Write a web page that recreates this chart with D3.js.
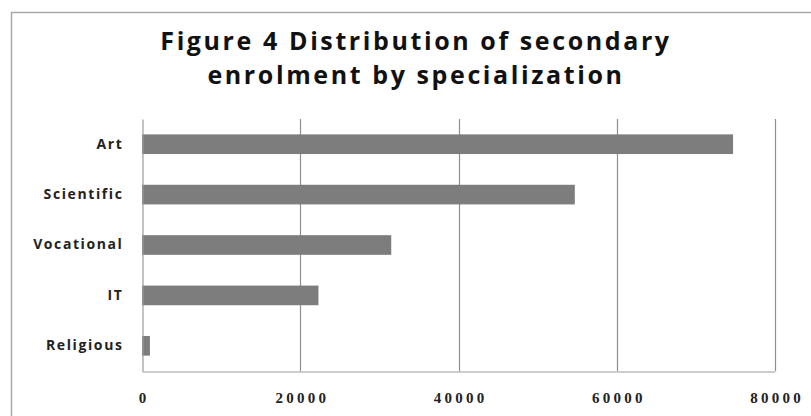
<!DOCTYPE html>
<html>
<head>
<meta charset="utf-8">
<script src="https://cdn.jsdelivr.net/npm/d3@7"></script>
<style>
  body { margin: 0; background: #fff; }
  #vis { width: 811px; height: 416px; }
</style>
</head>
<body>
<div id="vis"></div>
<script>
// data
var categories = ['Art', 'Scientific', 'Vocational', 'IT', 'Religious'];
var enrolment = [74700, 54700, 31500, 22300, 1000];
var xTicks = [0, 20000, 40000, 60000, 80000];
var titleLines = ['Figure 4 Distribution of secondary', 'enrolment by specialization'];

var width = 811, height = 416;
var margin = { top: 119, bottom: 45, left: 142, right: 36 };

var svg = d3.select('#vis')
    .append('svg')
    .attr('width', width)
    .attr('height', height);

svg.append('rect')
    .attr('width', width)
    .attr('height', height)
    .attr('fill', '#fff');

// chart frame (only top and left edges visible)
svg.append('rect')
    .attr('x', 11.5)
    .attr('y', 12.5)
    .attr('width', width + 20)
    .attr('height', height + 20)
    .attr('fill', 'none')
    .attr('stroke', '#a8a8a8')
    .attr('stroke-width', 1.5);

// title
svg.append('g')
    .selectAll('text')
    .data(titleLines)
    .enter()
    .append('text')
    .attr('x', 416)
    .attr('y', function(d, i) { return 50 + i * 34; })
    .attr('text-anchor', 'middle')
    .style('font-family', '"Open Sans", sans-serif')
    .style('font-weight', 700)
    .style('font-size', '25px')
    .style('letter-spacing', '2.6px')
    .style('fill', '#111')
    .text(function(d) { return d; });

var data = categories.map(function(c, i) {
    return { name: c, value: enrolment[i] };
});

var x_scale = d3.scaleLinear()
    .domain([0, 80000])
    .range([margin.left, width - margin.right]);

var y_scale = d3.scaleBand()
    .domain(categories)
    .range([margin.top, height - margin.bottom])
    .paddingInner(0.61)
    .paddingOuter(0.305);

var plotTop = margin.top, plotBottom = height - margin.bottom;

// vertical gridlines
svg.append('g')
    .selectAll('line')
    .data(xTicks.slice(1))
    .enter()
    .append('line')
    .attr('x1', function(d) { return Math.round(x_scale(d)) + 0.5; })
    .attr('x2', function(d) { return Math.round(x_scale(d)) + 0.5; })
    .attr('y1', plotTop)
    .attr('y2', plotBottom)
    .attr('stroke', '#8f8f8f')
    .attr('stroke-width', 1.2);

// bars
svg.append('g')
    .selectAll('.bar')
    .data(data)
    .enter()
    .append('rect')
    .attr('class', 'bar')
    .attr('x', x_scale(0))
    .attr('y', function(d) { return y_scale(d.name); })
    .attr('width', function(d) { return x_scale(d.value) - x_scale(0); })
    .attr('height', y_scale.bandwidth())
    .attr('fill', '#7d7d7d');

// x axis
var x_axis = d3.axisBottom(x_scale)
    .tickValues(xTicks)
    .tickSize(0)
    .tickPadding(21)
    .tickFormat(d3.format('d'));

var gx = svg.append('g')
    .attr('class', 'x axis')
    .attr('transform', 'translate(0,' + (plotBottom + 0.5) + ')')
    .call(x_axis);
gx.select('.domain').attr('stroke', '#9a9a9a').attr('stroke-width', 1.2);
gx.selectAll('text')
    .style('font-family', '"Liberation Serif", serif')
    .style('font-weight', 'bold')
    .style('font-size', '15px')
    .style('letter-spacing', '3.2px')
    .attr('dx', '1.6px')
    .style('fill', '#222');

// y axis
var y_axis = d3.axisLeft(y_scale)
    .tickSize(0)
    .tickPadding(19);

var gy = svg.append('g')
    .attr('class', 'y axis')
    .attr('transform', 'translate(' + (margin.left + 0.5) + ',0)')
    .call(y_axis);
gy.select('.domain').attr('stroke', '#9a9a9a').attr('stroke-width', 1.2);
gy.selectAll('text')
    .style('font-family', '"Open Sans", sans-serif')
    .style('font-weight', 700)
    .style('font-size', '14px')
    .style('letter-spacing', '1.6px')
    .style('fill', '#222');
</script>
</body>
</html>
